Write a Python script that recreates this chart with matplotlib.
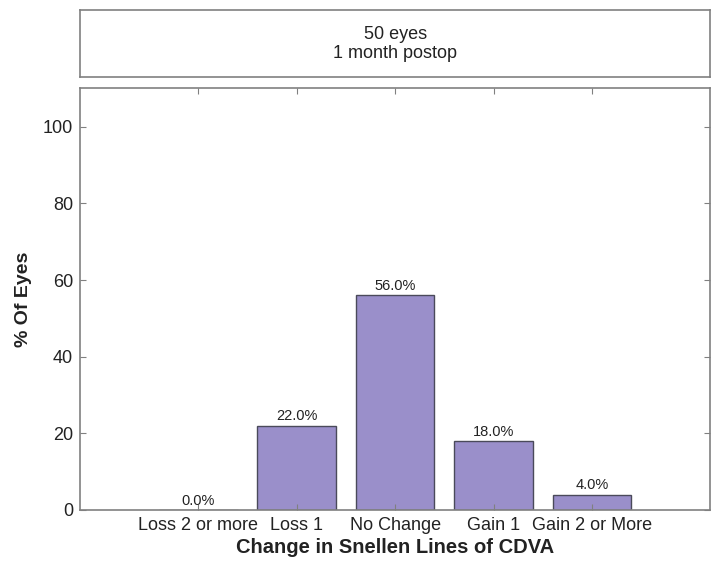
import matplotlib
matplotlib.use("Agg")
import matplotlib.pyplot as plt

plt.rcParams['font.family'] = ['Liberation Sans', 'DejaVu Sans']

categories = ["Loss 2 or more", "Loss 1", "No Change", "Gain 1", "Gain 2 or More"]
values = [0.0, 22.0, 56.0, 18.0, 4.0]
yticks = [0, 20, 40, 60, 80, 100]
title_lines = ["50 eyes", "1 month postop"]

fig = plt.figure(figsize=(7.21, 5.69), dpi=100)
spine_col = "#808080"
text_col = "#222222"

# header box
hax = fig.add_axes([0.111, 0.865, 0.874, 0.117])
hax.set_xticks([]); hax.set_yticks([])
for s in hax.spines.values():
    s.set_color(spine_col); s.set_linewidth(1.2)
hax.text(0.5, 0.5, "\n".join(title_lines), ha="center", va="center",
         fontsize=13, color=text_col, transform=hax.transAxes, linespacing=1.15)

ax = fig.add_axes([0.111, 0.1037, 0.874, 0.741])
x = list(range(1, len(categories) + 1))
ax.bar(x, values, width=0.8, color="#9A8FCA", edgecolor="#4a4a5a", linewidth=1.0)
for xi, v in zip(x, values):
    ax.text(xi, v + 0.6, f"{v:.1f}%", ha="center", va="bottom", fontsize=10.5, color=text_col)

ax.set_xlim(-0.2, 6.2)
ax.set_ylim(0, 110)
ax.set_xticks(x)
ax.set_xticklabels(categories)
ax.set_yticks(yticks)
ax.tick_params(direction="in", top=True, right=True, length=4, color=spine_col,
               labelsize=13, labelcolor=text_col, pad=5)
for s in ax.spines.values():
    s.set_color(spine_col); s.set_linewidth(1.2)
ax.set_xlabel("Change in Snellen Lines of CDVA", fontsize=14.5, fontweight="bold", color=text_col, labelpad=3)
ax.set_ylabel("% Of Eyes", fontsize=14, fontweight="bold", color=text_col, labelpad=8)

fig.savefig("out.png", dpi=100)
